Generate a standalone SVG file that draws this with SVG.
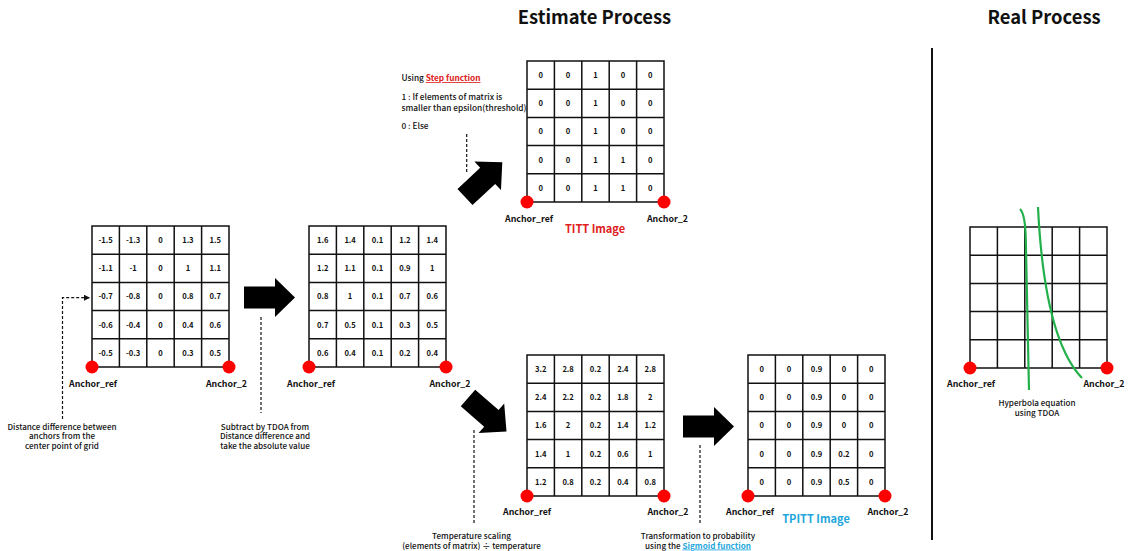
<svg xmlns="http://www.w3.org/2000/svg" xmlns:xlink="http://www.w3.org/1999/xlink" width="1131" height="551" viewBox="0 0 1131 551">
<style>
text{font-family:"Noto Sans CJK KR","Noto Sans",sans-serif;fill:#111}
.title{font-size:18.4px;font-weight:bold;text-anchor:middle}
.cell{font-size:7.6px;font-weight:bold;text-anchor:middle}
.anc{font-size:8.8px;font-weight:bold;text-anchor:middle}
.desc{font-size:8.1px;font-weight:500;text-anchor:middle}
.note{font-size:8.3px;font-weight:500}
.grid{fill:none;stroke:#111;stroke-width:1.5}
.dot{fill:#ff0000}
.dash{fill:none;stroke:#111;stroke-width:1.2;stroke-dasharray:3 2}
.bigarrow{fill:#000}
.red{fill:#e02020}
.cyan{fill:#1ea6dc}
.green{fill:none;stroke:#22b04b;stroke-width:2.2}
</style>
<defs>
<path id="gridp" d="M0,0H137V141H0Z M27.4,0V141 M54.8,0V141 M82.2,0V141 M109.6,0V141 M0,28.2H137 M0,56.4H137 M0,84.6H137 M0,112.8H137"/>
<path id="arr" d="M0,-11H31V-19.5L51,0L31,19.5V11H0Z"/>
<marker id="ah" markerWidth="8" markerHeight="8" refX="6" refY="3" orient="auto" markerUnits="userSpaceOnUse"><path d="M0,0L6,3L0,6Z" fill="#111"/></marker>
</defs>

<text class="title" x="594.5" y="24">Estimate Process</text>
<text class="title" x="1044" y="24">Real Process</text>

<g id="grid-distance" transform="translate(92,226)">
<use href="#gridp" class="grid"/>
<g class="cell">
<text x="13.7" y="17">-1.5</text><text x="41.1" y="17">-1.3</text><text x="68.5" y="17">0</text><text x="95.9" y="17">1.3</text><text x="123.3" y="17">1.5</text>
<text x="13.7" y="45.2">-1.1</text><text x="41.1" y="45.2">-1</text><text x="68.5" y="45.2">0</text><text x="95.9" y="45.2">1</text><text x="123.3" y="45.2">1.1</text>
<text x="13.7" y="73.4">-0.7</text><text x="41.1" y="73.4">-0.8</text><text x="68.5" y="73.4">0</text><text x="95.9" y="73.4">0.8</text><text x="123.3" y="73.4">0.7</text>
<text x="13.7" y="101.6">-0.6</text><text x="41.1" y="101.6">-0.4</text><text x="68.5" y="101.6">0</text><text x="95.9" y="101.6">0.4</text><text x="123.3" y="101.6">0.6</text>
<text x="13.7" y="129.8">-0.5</text><text x="41.1" y="129.8">-0.3</text><text x="68.5" y="129.8">0</text><text x="95.9" y="129.8">0.3</text><text x="123.3" y="129.8">0.5</text>
</g>
<circle class="dot" cx="0" cy="141" r="6.5"/><circle class="dot" cx="137" cy="141" r="6.5"/>
<text class="anc" x="1" y="160.5">Anchor_ref</text><text class="anc" x="134.5" y="160.5">Anchor_2</text>
</g>

<g id="grid-abs" transform="translate(309,226)">
<use href="#gridp" class="grid"/>
<g class="cell">
<text x="13.7" y="17">1.6</text><text x="41.1" y="17">1.4</text><text x="68.5" y="17">0.1</text><text x="95.9" y="17">1.2</text><text x="123.3" y="17">1.4</text>
<text x="13.7" y="45.2">1.2</text><text x="41.1" y="45.2">1.1</text><text x="68.5" y="45.2">0.1</text><text x="95.9" y="45.2">0.9</text><text x="123.3" y="45.2">1</text>
<text x="13.7" y="73.4">0.8</text><text x="41.1" y="73.4">1</text><text x="68.5" y="73.4">0.1</text><text x="95.9" y="73.4">0.7</text><text x="123.3" y="73.4">0.6</text>
<text x="13.7" y="101.6">0.7</text><text x="41.1" y="101.6">0.5</text><text x="68.5" y="101.6">0.1</text><text x="95.9" y="101.6">0.3</text><text x="123.3" y="101.6">0.5</text>
<text x="13.7" y="129.8">0.6</text><text x="41.1" y="129.8">0.4</text><text x="68.5" y="129.8">0.1</text><text x="95.9" y="129.8">0.2</text><text x="123.3" y="129.8">0.4</text>
</g>
<circle class="dot" cx="0" cy="141" r="6.5"/><circle class="dot" cx="137" cy="141" r="6.5"/>
<text class="anc" x="2" y="160.5">Anchor_ref</text><text class="anc" x="141" y="160.5">Anchor_2</text>
</g>

<g id="grid-titt" transform="translate(527,61)">
<use href="#gridp" class="grid"/>
<g class="cell">
<text x="13.7" y="17">0</text><text x="41.1" y="17">0</text><text x="68.5" y="17">1</text><text x="95.9" y="17">0</text><text x="123.3" y="17">0</text>
<text x="13.7" y="45.2">0</text><text x="41.1" y="45.2">0</text><text x="68.5" y="45.2">1</text><text x="95.9" y="45.2">0</text><text x="123.3" y="45.2">0</text>
<text x="13.7" y="73.4">0</text><text x="41.1" y="73.4">0</text><text x="68.5" y="73.4">1</text><text x="95.9" y="73.4">0</text><text x="123.3" y="73.4">0</text>
<text x="13.7" y="101.6">0</text><text x="41.1" y="101.6">0</text><text x="68.5" y="101.6">1</text><text x="95.9" y="101.6">1</text><text x="123.3" y="101.6">0</text>
<text x="13.7" y="129.8">0</text><text x="41.1" y="129.8">0</text><text x="68.5" y="129.8">1</text><text x="95.9" y="129.8">1</text><text x="123.3" y="129.8">0</text>
</g>
<circle class="dot" cx="0" cy="141" r="6.5"/><circle class="dot" cx="137" cy="141" r="6.5"/>
<text class="anc" x="2" y="160.5">Anchor_ref</text><text class="anc" x="140.5" y="160.5">Anchor_2</text>
<text class="anc red" x="68" y="171.5" style="font-size:11px">TITT Image</text>
</g>

<g id="grid-temp" transform="translate(527,355)">
<use href="#gridp" class="grid"/>
<g class="cell">
<text x="13.7" y="17">3.2</text><text x="41.1" y="17">2.8</text><text x="68.5" y="17">0.2</text><text x="95.9" y="17">2.4</text><text x="123.3" y="17">2.8</text>
<text x="13.7" y="45.2">2.4</text><text x="41.1" y="45.2">2.2</text><text x="68.5" y="45.2">0.2</text><text x="95.9" y="45.2">1.8</text><text x="123.3" y="45.2">2</text>
<text x="13.7" y="73.4">1.6</text><text x="41.1" y="73.4">2</text><text x="68.5" y="73.4">0.2</text><text x="95.9" y="73.4">1.4</text><text x="123.3" y="73.4">1.2</text>
<text x="13.7" y="101.6">1.4</text><text x="41.1" y="101.6">1</text><text x="68.5" y="101.6">0.2</text><text x="95.9" y="101.6">0.6</text><text x="123.3" y="101.6">1</text>
<text x="13.7" y="129.8">1.2</text><text x="41.1" y="129.8">0.8</text><text x="68.5" y="129.8">0.2</text><text x="95.9" y="129.8">0.4</text><text x="123.3" y="129.8">0.8</text>
</g>
<circle class="dot" cx="0" cy="141" r="6.5"/><circle class="dot" cx="137" cy="141" r="6.5"/>
<text class="anc" x="0" y="160">Anchor_ref</text><text class="anc" x="141" y="160">Anchor_2</text>
</g>

<g id="grid-tpitt" transform="translate(748,355)">
<use href="#gridp" class="grid"/>
<g class="cell">
<text x="13.7" y="17">0</text><text x="41.1" y="17">0</text><text x="68.5" y="17">0.9</text><text x="95.9" y="17">0</text><text x="123.3" y="17">0</text>
<text x="13.7" y="45.2">0</text><text x="41.1" y="45.2">0</text><text x="68.5" y="45.2">0.9</text><text x="95.9" y="45.2">0</text><text x="123.3" y="45.2">0</text>
<text x="13.7" y="73.4">0</text><text x="41.1" y="73.4">0</text><text x="68.5" y="73.4">0.9</text><text x="95.9" y="73.4">0</text><text x="123.3" y="73.4">0</text>
<text x="13.7" y="101.6">0</text><text x="41.1" y="101.6">0</text><text x="68.5" y="101.6">0.9</text><text x="95.9" y="101.6">0.2</text><text x="123.3" y="101.6">0</text>
<text x="13.7" y="129.8">0</text><text x="41.1" y="129.8">0</text><text x="68.5" y="129.8">0.9</text><text x="95.9" y="129.8">0.5</text><text x="123.3" y="129.8">0</text>
</g>
<circle class="dot" cx="0" cy="141" r="6.5"/><circle class="dot" cx="137" cy="141" r="6.5"/>
<text class="anc" x="2" y="160">Anchor_ref</text><text class="anc" x="140" y="160">Anchor_2</text>
<text class="anc cyan" x="68" y="167.5" style="font-size:11px">TPITT Image</text>
</g>

<g id="real-process">
<line x1="932" y1="48" x2="932" y2="540" stroke="#111" stroke-width="2"/>
<g transform="translate(970,227)">
<use href="#gridp" class="grid"/>
<circle class="dot" cx="0" cy="141" r="6.5"/><circle class="dot" cx="137" cy="141" r="6.5"/>
<text class="anc" x="1" y="159.7">Anchor_ref</text><text class="anc" x="134" y="159.7">Anchor_2</text>
</g>
<path class="green" d="M1020,209 C1024,213 1025.5,222 1025.8,240 L1029,390"/>
<path class="green" d="M1038,207 C1042,290 1055,350 1082,378"/>
<text class="desc" x="1037" y="406">Hyperbola equation<tspan x="1037" dy="9.5">using TDOA</tspan></text>
</g>

<g id="connectors">
<use href="#arr" class="bigarrow" transform="translate(244,297.5)"/>
<use href="#arr" class="bigarrow" transform="translate(465,197) rotate(-43)"/>
<use href="#arr" class="bigarrow" transform="translate(468,398) rotate(41)"/>
<use href="#arr" class="bigarrow" transform="translate(683,426.5)"/>
<path class="dash" d="M62.5,419V297.7H90" marker-end="url(#ah)"/>
<path class="dash" d="M261,317V413"/>
<path class="dash" d="M466.7,134V174"/>
<path class="dash" d="M474,430V525"/>
<path class="dash" d="M700,445V525"/>
</g>

<g id="labels">
<text class="desc" x="62" y="429.5">Distance difference between<tspan x="62" dy="9.5">anchors from the</tspan><tspan x="62" dy="9.5">center point of grid</tspan></text>
<text class="desc" x="265" y="429.5">Subtract by TDOA from<tspan x="265" dy="9.5">Distance difference and</tspan><tspan x="265" dy="9.5">take the absolute value</tspan></text>
<text class="note" x="401.5" y="81">Using <tspan class="red" style="font-weight:bold;text-decoration:underline">Step function</tspan></text>
<text class="note" x="401.5" y="100">1 : If elements of matrix is<tspan x="401.5" dy="10.5">smaller than epsilon(threshold)</tspan></text>
<text class="note" x="401.5" y="128.5">0 : Else</text>
<text class="desc" x="471.5" y="539">Temperature scaling<tspan x="471.5" dy="9.5">(elements of matrix) ÷ temperature</tspan></text>
<text class="desc" x="698" y="539">Transformation to probability<tspan x="698" dy="9.5">using the <tspan class="cyan" style="font-weight:bold;text-decoration:underline">Sigmoid function</tspan></tspan></text>
</g>
</svg>
